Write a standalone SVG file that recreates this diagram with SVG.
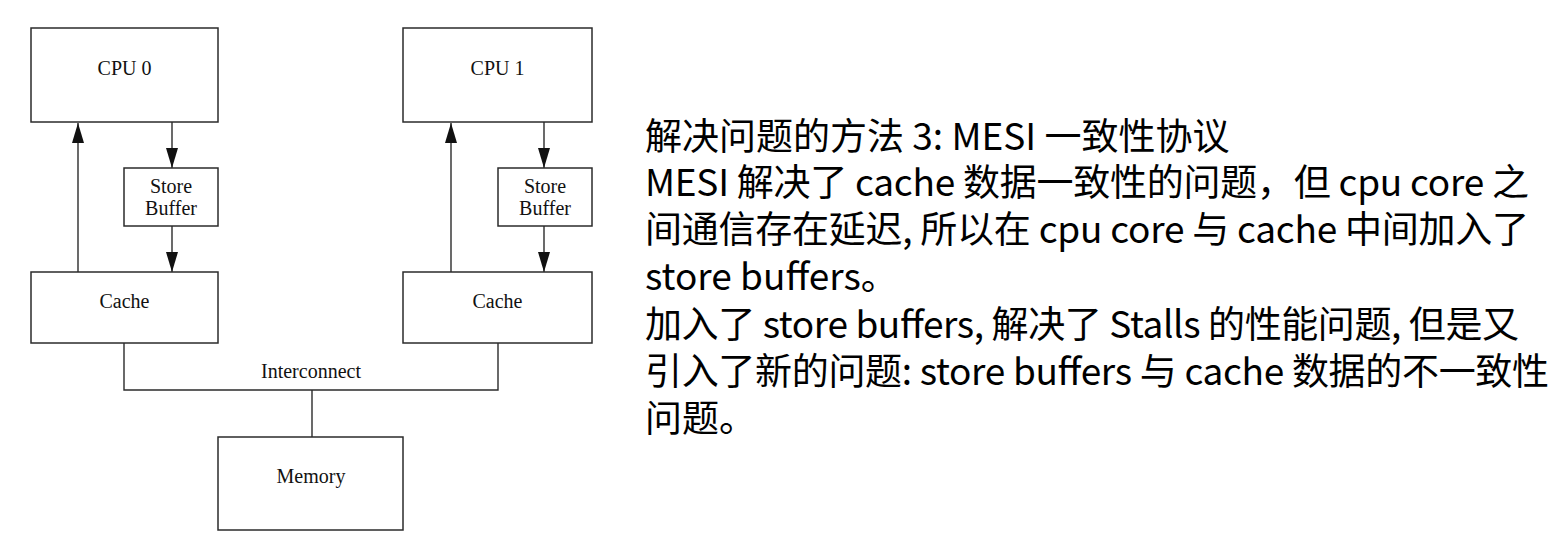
<svg xmlns="http://www.w3.org/2000/svg" width="1560" height="559" viewBox="0 0 1560 559">
<style>
.box{fill:#fff;stroke:#2b2b2b;stroke-width:1.5}
.lbl{font-family:"Liberation Serif","Times New Roman",serif;font-size:20px;fill:#111;text-anchor:middle}
.con{fill:none;stroke:#2b2b2b;stroke-width:1.4}
.txt{font-family:"Noto Sans CJK SC","Noto Sans",sans-serif;font-size:37px;fill:#000}
</style>
<defs>
<marker id="ah" viewBox="0 0 20 12" refX="20" refY="6" markerWidth="20" markerHeight="12" markerUnits="userSpaceOnUse" orient="auto">
<path d="M0,0 L20,6 L0,12 z" fill="#111"/>
</marker>
</defs>
<rect width="1560" height="559" fill="#fff"/>
<g id="connectors">
<line class="con" x1="78" y1="272" x2="78" y2="123" marker-end="url(#ah)"/>
<line class="con" x1="172" y1="122" x2="172" y2="168" marker-end="url(#ah)"/>
<line class="con" x1="172" y1="226" x2="172" y2="272" marker-end="url(#ah)"/>
<line class="con" x1="451" y1="272" x2="451" y2="123" marker-end="url(#ah)"/>
<line class="con" x1="544" y1="122" x2="544" y2="168" marker-end="url(#ah)"/>
<line class="con" x1="544" y1="226" x2="544" y2="272" marker-end="url(#ah)"/>
<polyline class="con" points="124,343 124,390 498,390 498,343"/>
<line class="con" x1="312" y1="390" x2="312" y2="437"/>
<text class="lbl" x="311" y="378">Interconnect</text>
</g>
<g id="cpu0"><rect class="box" x="31" y="28" width="187" height="94"/><text class="lbl" x="124.5" y="75">CPU 0</text></g>
<g id="sb0"><rect class="box" x="124" y="168" width="94" height="58"/><text class="lbl" x="171" y="193">Store</text><text class="lbl" x="171" y="215">Buffer</text></g>
<g id="cache0"><rect class="box" x="31" y="272" width="187" height="71"/><text class="lbl" x="124.5" y="308">Cache</text></g>
<g id="cpu1"><rect class="box" x="403" y="28" width="189" height="94"/><text class="lbl" x="497.5" y="75">CPU 1</text></g>
<g id="sb1"><rect class="box" x="498" y="168" width="94" height="58"/><text class="lbl" x="545" y="193">Store</text><text class="lbl" x="545" y="215">Buffer</text></g>
<g id="cache1"><rect class="box" x="403" y="272" width="189" height="71"/><text class="lbl" x="497.5" y="308">Cache</text></g>
<g id="memory"><rect class="box" x="218" y="437" width="185" height="93"/><text class="lbl" x="311" y="483">Memory</text></g>
<g id="description">
<text class="txt" x="645" y="150">解决问题的方法 3: MESI 一致性协议</text>
<text class="txt" x="645" y="196" textLength="884" lengthAdjust="spacing">MESI 解决了 cache 数据一致性的问题，但 cpu core 之</text>
<text class="txt" x="645" y="243" textLength="884" lengthAdjust="spacing">间通信存在延迟, 所以在 cpu core 与 cache 中间加入了</text>
<text class="txt" x="645" y="290">store buffers。</text>
<text class="txt" x="645" y="338" textLength="874" lengthAdjust="spacing">加入了 store buffers, 解决了 Stalls 的性能问题, 但是又</text>
<text class="txt" x="645" y="385" textLength="904" lengthAdjust="spacing">引入了新的问题: store buffers 与 cache 数据的不一致性</text>
<text class="txt" x="645" y="432">问题。</text>
</g>
</svg>
